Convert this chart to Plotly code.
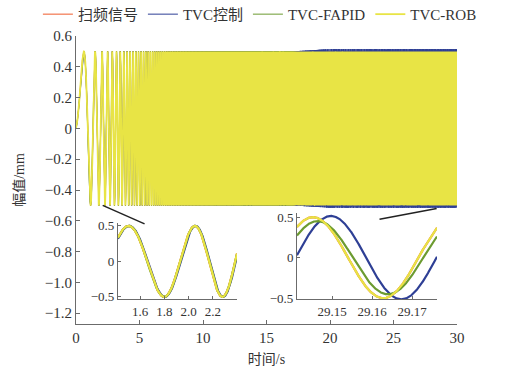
import numpy as np
import plotly.graph_objects as go

# ---- sweep excitation (linear chirp) ----
T_START, T_END = 0.0, 30.0
SAMPLE_STEP = 0.001          # s
SWEEP_F0 = 0.1               # Hz at t = 0
SWEEP_RATE = 0.97084         # Hz per second
SWEEP_AMP = 0.5              # mm

# ---- series: reference and the three tracking responses ----
SERIES_NAMES = ["扫频信号", "TVC控制", "TVC-FAPID", "TVC-ROB"]
SERIES_COLORS = ["#EF5B2B", "#2E3F95", "#6C9B30", "#E8E445"]
SERIES_DELAY = [0.0, 0.0045, 0.0012, 0.0]          # s, response lag
GAIN_TIMES = [0.0, 17.0, 20.0, 30.0]               # s
SERIES_GAIN = [
    [1.00, 1.00, 1.00, 1.00],
    [1.00, 1.00, 1.03, 1.03],
    [1.00, 1.00, 0.95, 0.90],
    [1.00, 1.00, 1.00, 1.00],
]
MAIN_WIDTHS = [1, 1, 1, 1.8]

# ---- axes ticks ----
X_TICKS = [0, 5, 10, 15, 20, 25, 30]
Y_TICKS = [0.6, 0.4, 0.2, 0, -0.2, -0.4, -0.6, -0.8, -1.0, -1.2]
Y_TICK_TEXT = ["0.6", "0.4", "0.2", "0", "−0.2", "−0.4", "−0.6", "−0.8", "−1.0", "−1.2"]
ZOOM1_RANGE = [1.417, 2.40]
ZOOM1_TICKS = [1.6, 1.8, 2.0, 2.2]
ZOOM2_RANGE = [29.1412, 29.1762]
ZOOM2_TICKS = [29.15, 29.16, 29.17]
ZOOM_Y_TICKS = [-0.5, 0, 0.5]
ZOOM_Y_TEXT = ["−0.5", "0", "0.5"]


def response(t, k):
    tau = np.clip(t - SERIES_DELAY[k], 0, None)
    cycles = SWEEP_F0 * tau + SWEEP_RATE * tau ** 2 / 2.0
    gain = np.interp(t, GAIN_TIMES, SERIES_GAIN[k])
    return SWEEP_AMP * gain * np.sin(2 * np.pi * cycles)


SERIF = "Liberation Serif, Noto Sans CJK SC, serif"
AXIS_COLOR = "#6b6b6b"

t_main = np.arange(T_START, T_END + SAMPLE_STEP / 2, SAMPLE_STEP)
t_z1 = np.linspace(ZOOM1_RANGE[0], ZOOM1_RANGE[1], 1500)
t_z2 = np.linspace(ZOOM2_RANGE[0], ZOOM2_RANGE[1], 1500)

fig = go.Figure()
for k, name in enumerate(SERIES_NAMES):
    fig.add_trace(go.Scatter(
        x=t_main, y=np.round(response(t_main, k), 4), mode="lines",
        name=name, line=dict(color=SERIES_COLORS[k], width=MAIN_WIDTHS[k]),
        xaxis="x", yaxis="y", legendgroup=name))
for k, name in enumerate(SERIES_NAMES):
    fig.add_trace(go.Scatter(
        x=t_z1, y=response(t_z1, k), mode="lines", showlegend=False,
        line=dict(color=SERIES_COLORS[k], width=2.2),
        xaxis="x2", yaxis="y2", legendgroup=name))
for k, name in enumerate(SERIES_NAMES):
    fig.add_trace(go.Scatter(
        x=t_z2, y=response(t_z2, k), mode="lines", showlegend=False,
        line=dict(color=SERIES_COLORS[k], width=2.2),
        xaxis="x3", yaxis="y3", legendgroup=name))

axis_common = dict(showline=True, linecolor=AXIS_COLOR, linewidth=1,
                   ticks="inside", ticklen=4, tickcolor=AXIS_COLOR,
                   showgrid=False, zeroline=False, automargin=False,
                   tickfont=dict(family=SERIF, size=15, color="#333"))
inset_common = dict(axis_common, tickfont=dict(family=SERIF, size=13, color="#333"),
                    ticklen=3)

fig.update_layout(
    width=509, height=367,
    margin=dict(l=76, r=52, t=36, b=43, autoexpand=False),
    paper_bgcolor="white", plot_bgcolor="white",
    showlegend=True,
    legend=dict(orientation="h", x=-0.10, xanchor="left", y=1.075, yanchor="middle",
                font=dict(family=SERIF, size=15, color="#333"),
                itemwidth=30, bgcolor="rgba(0,0,0,0)", tracegroupgap=0),
    xaxis=dict(axis_common, domain=[0, 1], range=[0, 30], tickvals=X_TICKS,
               title=dict(text="时间/s", font=dict(family=SERIF, size=14, color="#333"),
                          standoff=9)),
    yaxis=dict(axis_common, domain=[0, 1], range=[-1.27, 0.6], tickvals=Y_TICKS,
               ticktext=Y_TICK_TEXT,
               title=dict(text="幅值/mm", font=dict(family=SERIF, size=14, color="#333"),
                          standoff=16)),
    xaxis2=dict(inset_common, domain=[0.110, 0.4226], range=ZOOM1_RANGE,
                tickvals=ZOOM1_TICKS, ticktext=["1.6", "1.8", "2.0", "2.2"], anchor="y2"),
    yaxis2=dict(inset_common, domain=[0.0868, 0.3507], range=[-0.53, 0.54],
                tickvals=ZOOM_Y_TICKS, ticktext=ZOOM_Y_TEXT, anchor="x2"),
    xaxis3=dict(inset_common, domain=[0.580, 0.9475], range=ZOOM2_RANGE,
                tickvals=ZOOM2_TICKS, ticktext=["29.15", "29.16", "29.17"], anchor="y3"),
    yaxis3=dict(inset_common, domain=[0.0868, 0.385], range=[-0.51, 0.55],
                tickvals=ZOOM_Y_TICKS, ticktext=ZOOM_Y_TEXT, anchor="x3"),
    shapes=[
        dict(type="line", xref="x", yref="y", x0=2.1, y0=-0.50, x1=5.4, y1=-0.62,
             line=dict(color="#222", width=1.5)),
        dict(type="line", xref="x", yref="y", x0=23.9, y0=-0.59, x1=28.4, y1=-0.52,
             line=dict(color="#222", width=1.5)),
    ],
)

fig.write_html("out.html")
